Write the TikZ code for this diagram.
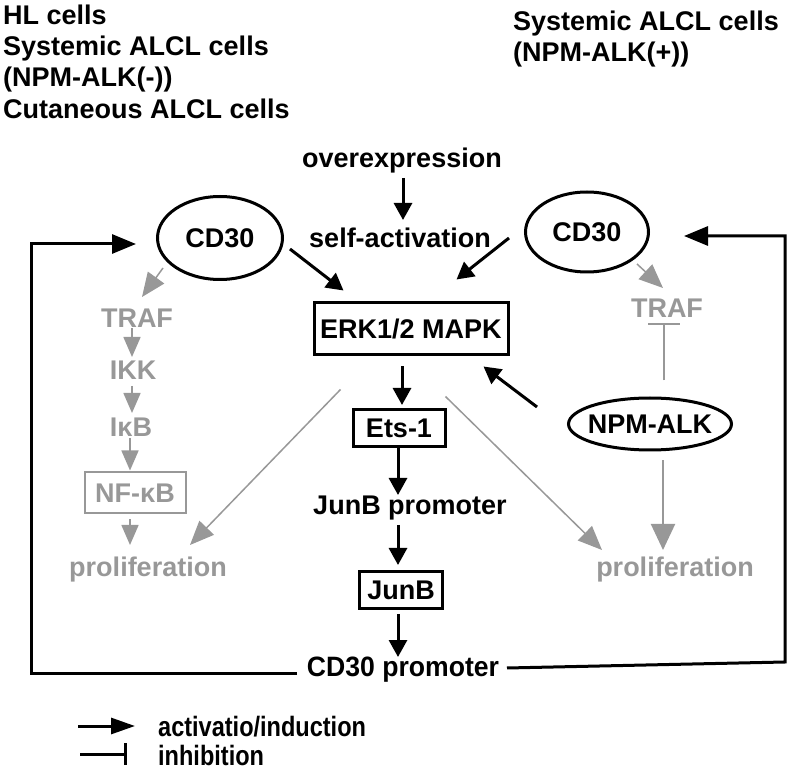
\documentclass[tikz,border=0pt]{standalone}
\usepackage{fontspec}
\setmainfont{Liberation Sans}
\newfontfamily\promfont[FakeStretch=0.95]{Liberation Sans}
\newfontfamily\legfont[FakeStretch=0.84]{Liberation Sans}
\usetikzlibrary{arrows.meta,shapes.geometric,calc}
\definecolor{mygray}{RGB}{152,152,152}
\begin{document}
\begin{tikzpicture}[x=1pt,y=-1pt,
  every node/.style={font=\bfseries\fontsize{27}{31}\selectfont, inner sep=0pt},
  ell/.style={draw, ellipse, line width=3pt, text height=19.3pt, text depth=0pt},
  boxn/.style={draw, rectangle, line width=3pt, text height=19.3pt, text depth=0pt},
  gtext/.style={text=mygray},
  arr/.style={line width=3pt, -{Triangle[length=17pt,width=18pt]}},
  loopar/.style={line width=3pt, line join=miter, -{Triangle[length=24pt,width=19pt]}},
  garrS/.style={draw=mygray, line width=1.6pt, -{Triangle[length=20pt,width=17pt]}},
  garrL/.style={draw=mygray, line width=1.5pt, -{Triangle[length=24pt,width=20pt]}},
  garrB/.style={draw=mygray, line width=2pt, -{Triangle[length=26pt,width=24pt]}},
  ginh/.style={draw=mygray, line width=1.6pt, -{Bar[width=32pt]}},
  legtext/.style={font=\legfont\bfseries\fontsize{28}{30}\selectfont},
]
\useasboundingbox (0,0) rectangle (788,775);

% headers
\node[anchor=base west] (h1) at (3,25) {HL cells};
\node[anchor=base west] (h2) at (3,56) {Systemic ALCL cells};
\node[anchor=base west] (h3) at (3,87) {(NPM-ALK(-))};
\node[anchor=base west] (h4) at (3,119) {Cutaneous ALCL cells};
\node[anchor=base west] (h5) at (513,31) {Systemic ALCL cells};
\node[anchor=base west] (h6) at (513,62) {(NPM-ALK(+))};

% central nodes
\node[anchor=base] (over) at (402,168) {overexpression};
\node[anchor=base] (self) at (400,248) {self-activation};
\node[ell, minimum width=125pt, minimum height=83pt] (cdL) at (220,238) {CD30};
\node[ell, minimum width=123pt, minimum height=80pt] (cdR) at (587,232) {CD30};
\node[boxn, minimum width=194pt, minimum height=52pt] (erk) at (411,329) {ERK1/2 MAPK};
\node[boxn, minimum width=92pt, minimum height=37pt] (ets) at (399,428) {Ets-1};
\node[anchor=base] (junbp) at (410,515) {JunB promoter};
\node[boxn, minimum width=83pt, minimum height=37pt] (junb) at (401,590) {JunB};
\node[anchor=base, font=\promfont\bfseries\fontsize{28}{30}\selectfont] (cdprom) at (403,677) {CD30 promoter};
\node[ell, minimum width=163pt, minimum height=52pt, inner xsep=-5.5pt] (npm) at (650,424) {NPM-ALK};

% gray nodes
\node[gtext, anchor=base] (trafL) at (137,328) {TRAF};
\node[gtext, anchor=base] (ikk) at (133,380) {IKK};
\node[gtext, anchor=base] (ikb) at (131,437) {IκB};
\node[boxn, draw=mygray, line width=2pt, text=mygray, minimum width=101pt, minimum height=41pt] (nfkb) at (135,493) {NF-κB};
\node[gtext, anchor=base] (prolL) at (148,577) {proliferation};
\node[gtext, anchor=base] (prolR) at (675,577) {proliferation};
\node[gtext, anchor=base] (trafR) at (667,318) {TRAF};

\coordinate (loopL) at (31,673);
\coordinate (loopR) at (785,662);

% black connectors
\draw[arr] ($(over.base)+(1,10)$) -- ($(over.base)+(1,52)$);
\draw[arr] ($(cdL)+(70,11)$) -- ($(erk.north west)+(31,-11)$);
\draw[arr] ($(cdR)+(-78,6)$) -- ($(erk.north east)+(-53,-22)$);
\draw[arr] ($(npm)+(-113,-17)$) -- ($(erk.south east)+(-26,10)$);
\draw[arr] ($(erk.south)+(-9,10)$) -- ($(ets.north)+(3,-3)$);
\draw[arr] ($(ets.south)+(-1,0)$) -- ($(junbp.base)+(-12,-20)$);
\draw[arr] ($(junbp.base)+(-12,10)$) -- ($(junb.north)+(-3,-5)$);
\draw[arr] ($(junb.south)+(-3,4)$) -- ($(cdprom.base)+(-5,-20)$);

% feedback loops
\draw[loopar] ($(cdprom.base)+(-106,-4)$) -- (loopL) |- ($(cdL.west)+(-20,6)$);
\draw[loopar] ($(cdprom.base)+(104,-9)$) -- (loopR) |- ($(cdR.east)+(34,4)$);

% gray connectors
\draw[garrL] ($(cdL)+(-57,30)$) -- ($(trafL.base)+(5,-31)$);
\draw[garrS] ($(trafL.base)+(-5,0)$) -- ($(ikk.base)+(-1,-23)$);
\draw[garrS] ($(ikk.base)+(-1,6)$) -- ($(ikb.base)+(1,-24)$);
\draw[garrS] ($(ikb.base)+(-1,1)$) -- ($(nfkb.north)+(-5,-1)$);
\draw[garrS] ($(nfkb.south)+(-5,5)$) -- ($(prolL.base)+(-18,-32)$);
\draw[garrL] ($(erk.south west)+(28,33)$) -- ($(prolL.base)+(42,-32)$);
\draw[garrL] ($(erk.south west)+(133,40)$) -- ($(prolR.base)+(-73,-27)$);
\draw[garrB] ($(npm.south)+(13,9)$) -- ($(prolR.base)+(-12,-27)$);
\draw[garrL] ($(cdR)+(50,32)$) -- ($(trafR.base)+(-4,-30)$);
\draw[ginh] ($(npm.north)+(14,-16)$) -- ($(trafR.base)+(-3,5)$);

% legend
\node[legtext, anchor=base west] (legA) at (158,736) {activatio/induction};
\node[legtext, anchor=base west] (legI) at (158,765) {inhibition};
\draw[line width=3pt, -{Triangle[length=24pt,width=16pt]}] ($(legA.base west)+(-80,-10)$) -- ($(legA.base west)+(-23,-10)$);
\draw[line width=3pt, -{Bar[width=22pt]}] ($(legI.base west)+(-78,-11)$) -- ($(legI.base west)+(-31,-11)$);
\end{tikzpicture}
\end{document}
